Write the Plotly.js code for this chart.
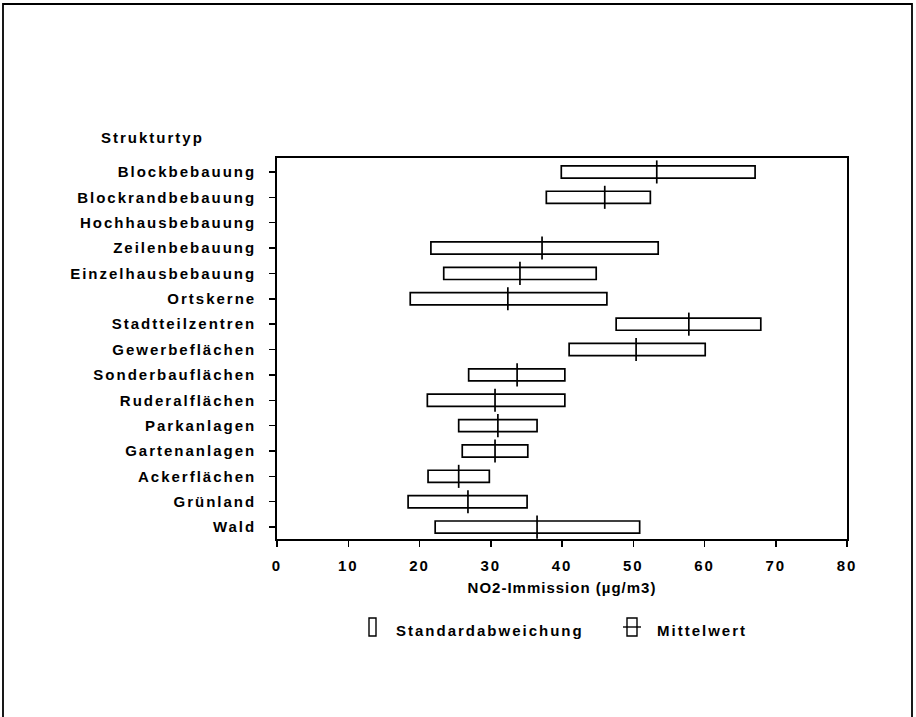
<!DOCTYPE html>
<html>
<head>
<meta charset="utf-8">
<script src="https://cdn.plot.ly/plotly-3.0.1.min.js"></script>
<style>
  html, body { margin: 0; padding: 0; background: #fff; }
  #chart { width: 916px; height: 717px; }
  #chart text { letter-spacing: 2px; }
  #chart text.xtitle { letter-spacing: 1px; }
</style>
</head>
<body>
<div id="chart"></div>
<script>
// Data (NO2-Immission in µg/m3)
const categories = ["Blockbebauung", "Blockrandbebauung", "Hochhausbebauung", "Zeilenbebauung",
  "Einzelhausbebauung", "Ortskerne", "Stadtteilzentren", "Gewerbeflächen", "Sonderbauflächen",
  "Ruderalflächen", "Parkanlagen", "Gartenanlagen", "Ackerflächen", "Grünland", "Wald"];
const sdLow  = [39.9, 37.8, null, 21.6, 23.4, 18.7, 47.6, 41.0, 26.9, 21.1, 25.5, 26.0, 21.2, 18.4, 22.2];
const sdHigh = [67.1, 52.4, null, 53.5, 44.8, 46.3, 67.9, 60.1, 40.4, 40.4, 36.5, 35.2, 29.8, 35.1, 50.9];
const meanValues = [53.3, 46.0, null, 37.2, 34.1, 32.4, 57.8, 50.4, 33.7, 30.6, 31.0, 30.6, 25.5, 26.8, 36.5];
const xTicks = [0, 10, 20, 30, 40, 50, 60, 70, 80];
const xTitle = "NO2-Immission (µg/m3)";
const yTitle = "Strukturtyp";
const legendLabels = ["Standardabweichung", "Mittelwert"];

const yIdx = categories.map((c, i) => i);
const font = { family: "Liberation Sans, Arial, sans-serif", size: 15, color: "#000", weight: "bold" };

// plot-area pixel geometry helper for paper coordinates (legend/frame only)
const L = 277, R = 847, T = 158, B = 539;
const px = x => (x - L) / (R - L);
const py = y => (B - y) / (B - T);

const sdTrace = {
  type: "bar", orientation: "h",
  y: yIdx,
  base: sdLow,
  x: sdHigh.map((h, i) => (h == null || sdLow[i] == null) ? null : h - sdLow[i]),
  width: 0.48,
  marker: { color: "#fff", line: { color: "#000", width: 1.7 } },
  showlegend: false, hoverinfo: "skip"
};
const meanTrace = {
  type: "scatter", mode: "markers",
  y: yIdx, x: meanValues,
  marker: { symbol: "line-ns", size: 16.5, line: { color: "#000", width: 1.7 } },
  showlegend: false, hoverinfo: "skip", cliponaxis: false
};

const shapes = [
  // outer frame
  { type: "rect", xref: "paper", yref: "paper", x0: px(3), x1: px(912), y0: py(740), y1: py(4),
    line: { color: "#000", width: 1.8 }, fillcolor: "rgba(0,0,0,0)" },
  // legend: SD symbol
  { type: "rect", xref: "paper", yref: "paper", x0: px(369), x1: px(376), y0: py(636), y1: py(618),
    line: { color: "#000", width: 1.4 } },
  // legend: mean symbol
  { type: "rect", xref: "paper", yref: "paper", x0: px(627), x1: px(637), y0: py(636), y1: py(618),
    line: { color: "#000", width: 1.4 } },
  { type: "line", xref: "paper", yref: "paper", x0: px(623), x1: px(641), y0: py(627), y1: py(627),
    line: { color: "#000", width: 1.4 } }
];

const annotations = [
  { text: yTitle, xref: "paper", yref: "paper", x: px(152), y: py(137), xanchor: "center", yanchor: "middle",
    showarrow: false, font: font },
  { text: legendLabels[0], xref: "paper", yref: "paper", x: px(490), y: py(630), xanchor: "center", yanchor: "middle",
    showarrow: false, font: font },
  { text: legendLabels[1], xref: "paper", yref: "paper", x: px(702), y: py(630), xanchor: "center", yanchor: "middle",
    showarrow: false, font: font }
];

const layout = {
  width: 916, height: 717,
  margin: { l: L, r: 916 - R, t: T, b: 717 - B, pad: 0 },
  paper_bgcolor: "#fff", plot_bgcolor: "#fff",
  font: font,
  showlegend: false,
  bargap: 0,
  xaxis: {
    range: [0, 80], tickvals: xTicks, ticktext: xTicks.map(String),
    ticks: "outside", ticklen: 6, tickwidth: 1.5, tickcolor: "#000",
    showline: true, linecolor: "#000", linewidth: 1.8, mirror: true,
    showgrid: false, zeroline: false,
    tickfont: font, ticklabelstandoff: 6,
    title: { text: xTitle, font: font, standoff: 10 },
    fixedrange: true
  },
  yaxis: {
    range: [14.47, -0.55], tickvals: yIdx, ticktext: categories,
    ticks: "outside", ticklen: 6, tickwidth: 1.5, tickcolor: "#000",
    showline: true, linecolor: "#000", linewidth: 1.8, mirror: true,
    showgrid: false, zeroline: false,
    tickfont: font, ticklabelstandoff: 10,
    fixedrange: true
  },
  shapes: shapes,
  annotations: annotations
};

Plotly.newPlot("chart", [sdTrace, meanTrace], layout, { displayModeBar: false, staticPlot: true });
</script>
</body>
</html>
